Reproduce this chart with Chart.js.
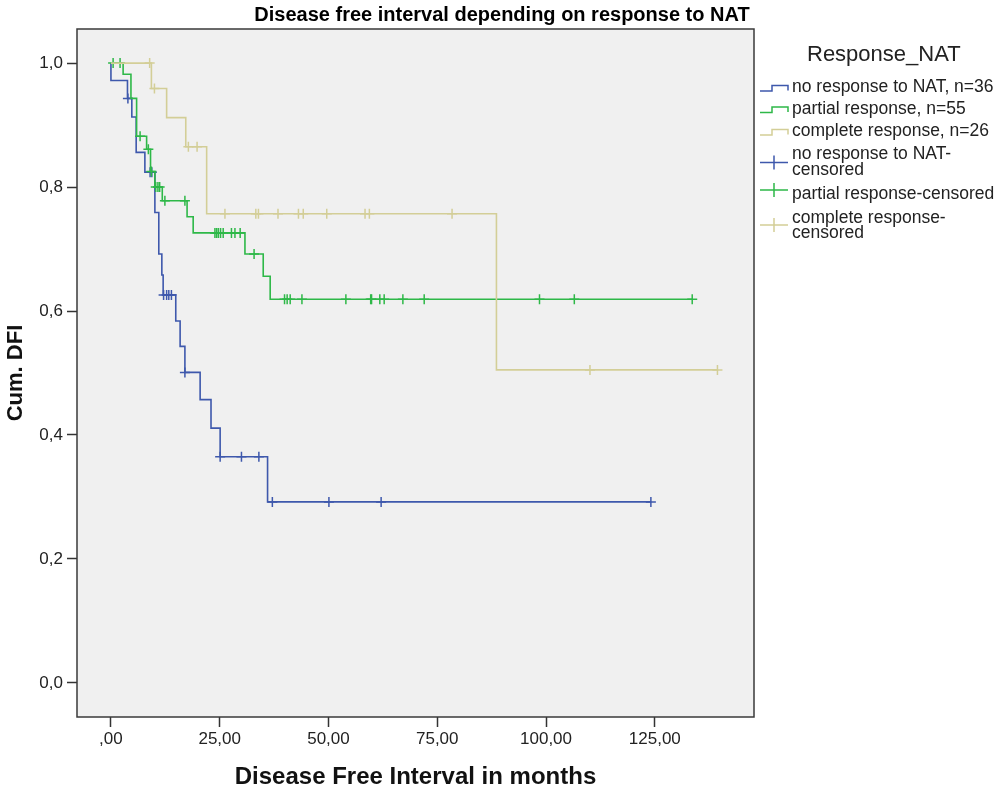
<!DOCTYPE html>
<html>
<head>
<meta charset="utf-8">
<script src="https://cdn.jsdelivr.net/npm/chart.js@4.4.1/dist/chart.umd.min.js"></script>
<style>
  html, body { margin: 0; padding: 0; background: #ffffff; }
  #wrap { position: relative; width: 1005px; height: 795px; }
</style>
</head>
<body>
<div id="wrap"><canvas id="c" width="1005" height="795"></canvas></div>
<script>
// ---- Data ----
const chartTitle = "Disease free interval depending on response to NAT";
const xAxisTitle = "Disease Free Interval in months";
const yAxisTitle = "Cum. DFI";
const legendTitle = "Response_NAT";

const groupNames = ["no response to NAT, n=36", "partial response, n=55", "complete response, n=26"];
const censorNames = [["no response to NAT-", "censored"], ["partial response-censored"], ["complete response-", "censored"]];

// no response to NAT: event times (months) and cumulative DFI after each event
const noRespEventT = [0, 3.8, 4.8, 5.8, 7.8, 10.1, 11.0, 11.7, 12.0, 14.9, 15.9, 17.0, 20.5, 23.0, 25.1, 36.0];
const noRespS      = [0.972, 0.943, 0.913, 0.856, 0.824, 0.759, 0.692, 0.658, 0.626, 0.584, 0.543, 0.501, 0.457, 0.411, 0.365, 0.292];
const noRespEnd    = 124.1;
const noRespCensor = [3.9, 9.0, 9.4, 12.1, 12.8, 13.3, 13.9, 17.0, 25.1, 30.0, 34.0, 37.1, 50.1, 62.1, 124.1];

// partial response
const partialEventT = [2.8, 4.6, 5.9, 8.2, 9.1, 10.1, 11.8, 17.5, 18.9, 30.8, 35.0, 36.6];
const partialS      = [0.982, 0.943, 0.882, 0.861, 0.825, 0.800, 0.778, 0.752, 0.726, 0.692, 0.656, 0.619];
const partialEnd    = 133.6;
const partialCensor = [0.5, 2.1, 6.7, 8.6, 9.3, 10.3, 10.8, 11.2, 12.4, 17.0, 23.9, 24.3, 24.7, 25.2, 25.8, 27.7, 28.5, 29.7, 32.9,
                       39.9, 40.5, 41.2, 43.9, 54.0, 59.7, 59.9, 61.8, 62.8, 67.1, 72.0, 98.5, 106.5, 133.6];

// complete response
const completeEventT = [9.3, 12.8, 17.2, 22.0, 88.6];
const completeS      = [0.959, 0.912, 0.865, 0.757, 0.505];
const completeEnd    = 139.4;
const completeCensor = [8.9, 10.0, 17.8, 19.8, 26.2, 33.3, 33.9, 38.4, 43.1, 44.2, 49.6, 58.4, 59.4, 78.4, 110.1, 139.4];

const xTicks = [0, 25, 50, 75, 100, 125];
const xTickLabels = [",00", "25,00", "50,00", "75,00", "100,00", "125,00"];
const yTicks = [0, 0.2, 0.4, 0.6, 0.8, 1.0];
const yTickLabels = ["0,0", "0,2", "0,4", "0,6", "0,8", "1,0"];

const colors = ["#3E58AC", "#2EB848", "#D3CE97"];

// ---- Build datasets ----
function stepPoints(eventT, S, endT) {
  const pts = [{x: 0, y: 1}];
  for (let i = 0; i < eventT.length; i++) pts.push({x: eventT[i], y: S[i]});
  pts.push({x: endT, y: S[S.length - 1]});
  return pts;
}
function censorPoints(eventT, S, cens) {
  return cens.map(t => {
    let v = 1;
    for (let i = 0; i < eventT.length; i++) if (t >= eventT[i]) v = S[i];
    return {x: t, y: v};
  });
}
const groups = [
  [noRespEventT, noRespS, noRespEnd, noRespCensor],
  [partialEventT, partialS, partialEnd, partialCensor],
  [completeEventT, completeS, completeEnd, completeCensor]
];
const datasets = [];
groups.forEach((g, i) => {
  datasets.push({
    label: groupNames[i], data: stepPoints(g[0], g[1], g[2]), showLine: true, stepped: true,
    borderColor: colors[i], borderWidth: 1.6, pointRadius: 0, fill: false, order: 3 - i
  });
});
groups.forEach((g, i) => {
  datasets.push({
    label: censorNames[i].join(''), data: censorPoints(g[0], g[1], g[3]), showLine: false,
    pointStyle: 'cross', pointRadius: 5, pointBorderWidth: 1.5, borderColor: colors[i],
    backgroundColor: colors[i], order: 3 - i
  });
});

const FONT = "'Liberation Sans', Arial, sans-serif";

const framePlugin = {
  id: 'frame',
  beforeDraw(chart) {
    const {ctx, chartArea: a} = chart;
    ctx.save();
    ctx.fillStyle = '#F0F0F0';
    ctx.fillRect(a.left, a.top, a.right - a.left, a.bottom - a.top);
    ctx.restore();
  },
  afterDraw(chart) {
    const {ctx, chartArea: a} = chart;
    ctx.save();
    ctx.strokeStyle = '#3a3a3a';
    ctx.lineWidth = 1.5;
    ctx.strokeRect(a.left, a.top, a.right - a.left, a.bottom - a.top);

    // chart title
    ctx.fillStyle = '#000';
    ctx.font = "bold 20px " + FONT;
    ctx.textAlign = 'center';
    ctx.textBaseline = 'alphabetic';
    ctx.fillText(chartTitle, 502, 21);

    // legend
    ctx.textAlign = 'left';
    ctx.font = "22px " + FONT;
    ctx.fillStyle = '#222';
    ctx.fillText(legendTitle, 807, 61);

    ctx.font = "17.5px " + FONT;
    ctx.textBaseline = 'middle';
    const rowY = [87.5, 109, 131.5];
    rowY.forEach((y, i) => {
      ctx.strokeStyle = colors[i];
      ctx.lineWidth = 1.5;
      ctx.beginPath();
      ctx.moveTo(760, y + 3.5); ctx.lineTo(772, y + 3.5); ctx.lineTo(772, y - 2);
      ctx.lineTo(788, y - 2); ctx.lineTo(788, y + 3);
      ctx.stroke();
      ctx.fillStyle = '#222';
      ctx.fillText(groupNames[i], 792, y);
    });
    const cRows = [[154, 170], [194], [218.5, 233]];
    const cIcon = [162.5, 190, 225];
    cRows.forEach((lines, i) => {
      const yc = cIcon[i];
      ctx.strokeStyle = colors[i];
      ctx.lineWidth = 1.5;
      ctx.beginPath();
      ctx.moveTo(760, yc); ctx.lineTo(788, yc);
      ctx.moveTo(774, yc - 7); ctx.lineTo(774, yc + 7);
      ctx.stroke();
      ctx.fillStyle = '#222';
      lines.forEach((ly, j) => ctx.fillText(censorNames[i][j], 792, ly));
    });
    ctx.restore();
  }
};

new Chart(document.getElementById('c'), {
  type: 'scatter',
  data: { datasets },
  options: {
    responsive: false,
    animation: false,
    layout: { padding: { top: 29, right: 251, left: 0, bottom: 0 } },
    plugins: { legend: { display: false }, title: { display: false }, tooltip: { enabled: false } },
    scales: {
      x: {
        type: 'linear', min: -7.8, max: 147.8,
        afterBuildTicks: s => { s.ticks = xTicks.map(v => ({value: v})); },
        afterFit: s => { s.height = 78; },
        grid: { display: true, drawOnChartArea: false, drawTicks: true, tickLength: 10, color: '#333', tickWidth: 1.5 },
        border: { display: false },
        ticks: { padding: 2, color: '#222', font: { family: FONT, size: 17 },
                 callback: (v) => xTickLabels[xTicks.indexOf(v)] },
        title: { display: true, text: xAxisTitle, color: '#111', font: { family: FONT, size: 24, weight: 'bold' }, padding: { bottom: 3, top: 0 } }
      },
      y: {
        type: 'linear', min: -0.055, max: 1.055,
        afterBuildTicks: s => { s.ticks = yTicks.map(v => ({value: v})); },
        afterFit: s => { s.width = 77; },
        grid: { display: true, drawOnChartArea: false, drawTicks: true, tickLength: 10, color: '#333', tickWidth: 1.5 },
        border: { display: false },
        ticks: { padding: 4, color: '#222', font: { family: FONT, size: 17 },
                 callback: (v) => yTickLabels[yTicks.indexOf(v)] },
        title: { display: true, text: yAxisTitle, color: '#111', font: { family: FONT, size: 22, weight: 'bold' }, padding: { top: 3, bottom: 0 } }
      }
    }
  },
  plugins: [framePlugin]
});
</script>
</body>
</html>
